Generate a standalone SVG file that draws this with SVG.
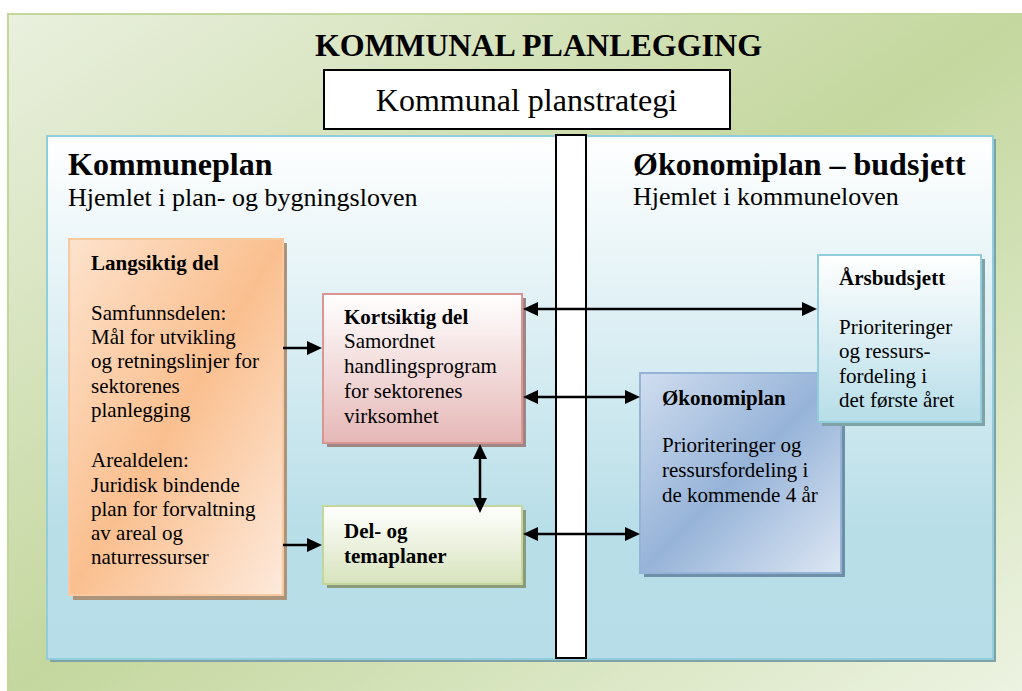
<svg xmlns="http://www.w3.org/2000/svg" width="1022" height="691" viewBox="0 0 1022 691">
  <defs>
    <linearGradient id="gBg" x1="0" y1="0" x2="1" y2="1">
      <stop offset="0" stop-color="#e9f0de"/>
      <stop offset="0.5" stop-color="#c4d79e"/>
      <stop offset="1" stop-color="#ecf3e2"/>
    </linearGradient>
    <linearGradient id="gPanel" x1="0" y1="0" x2="0" y2="1">
      <stop offset="0" stop-color="#ffffff"/>
      <stop offset="0.75" stop-color="#b8dee8"/>
      <stop offset="1" stop-color="#b7dde8"/>
    </linearGradient>
    <linearGradient id="gOrange" x1="0" y1="0" x2="1" y2="1">
      <stop offset="0" stop-color="#fde3cd"/>
      <stop offset="0.5" stop-color="#fabf8f"/>
      <stop offset="1" stop-color="#fdeadc"/>
    </linearGradient>
    <linearGradient id="gPink" x1="0" y1="0" x2="0" y2="1">
      <stop offset="0" stop-color="#ffffff"/>
      <stop offset="1" stop-color="#e5b8b7"/>
    </linearGradient>
    <linearGradient id="gGreen" x1="0" y1="0" x2="0" y2="1">
      <stop offset="0" stop-color="#ffffff"/>
      <stop offset="1" stop-color="#d7e3bc"/>
    </linearGradient>
    <linearGradient id="gBlue" x1="0" y1="0" x2="1" y2="1">
      <stop offset="0" stop-color="#d0ddef"/>
      <stop offset="0.5" stop-color="#96b3d8"/>
      <stop offset="1" stop-color="#dde7f3"/>
    </linearGradient>
    <linearGradient id="gAqua" x1="0" y1="0" x2="0" y2="1">
      <stop offset="0" stop-color="#ffffff"/>
      <stop offset="1" stop-color="#b6dde8"/>
    </linearGradient>
    <marker id="arr" viewBox="0 0 15 14" markerWidth="15" markerHeight="14" refX="2" refY="7" orient="auto-start-reverse" markerUnits="userSpaceOnUse">
      <path d="M0,0 L15,7 L0,14 z" fill="#000"/>
    </marker>
  </defs>
  <style>
    text { font-family: "Liberation Serif", "Times New Roman", serif; fill: #000; }
    .title { font-size: 32px; font-weight: bold; }
    .big { font-size: 32px; }
    .head { font-size: 32px; font-weight: bold; }
    .sub { font-size: 26px; }
    .t { font-size: 21px; }
    .b { font-weight: bold; }
    .conn line { stroke: #000; stroke-width: 2.5; fill: none; }
  </style>

  <g id="background">
    <rect x="8" y="14" width="1016" height="680" fill="url(#gBg)" stroke="#c3d69b" stroke-width="2"/>
  </g>

  <g id="title">
    <text class="title" x="538.5" y="56" text-anchor="middle">KOMMUNAL PLANLEGGING</text>
  </g>

  <g id="planstrategi">
    <rect x="324" y="70" width="406" height="59" fill="#ffffff" stroke="#000" stroke-width="2"/>
    <text class="big" x="526.5" y="111" text-anchor="middle">Kommunal planstrategi</text>
  </g>

  <g id="panel">
    <rect x="50" y="139" width="946" height="523" fill="#7fa2a7"/>
    <rect x="47" y="136" width="946" height="523" fill="url(#gPanel)" stroke="#92cddc" stroke-width="2"/>
    <text class="head" x="68" y="175">Kommuneplan</text>
    <text class="sub" x="68" y="206">Hjemlet i plan- og bygningsloven</text>
    <text class="head" x="633" y="175">Økonomiplan – budsjett</text>
    <text class="sub" x="633" y="205">Hjemlet i kommuneloven</text>
  </g>

  <g id="divider">
    <rect x="556" y="135" width="30" height="523" fill="#ffffff" stroke="#000" stroke-width="2"/>
  </g>

  <g id="langsiktig">
    <rect x="73" y="243" width="214" height="357" fill="#ab9479"/>
    <rect x="69" y="239" width="214" height="356" fill="url(#gOrange)" stroke="#f9c9a1" stroke-width="2"/>
    <text class="t b" x="91" y="270">Langsiktig del</text>
    <text class="t" x="91" y="320">Samfunnsdelen:</text>
    <text class="t" x="91" y="344">Mål for utvikling</text>
    <text class="t" x="91" y="368">og retningslinjer for</text>
    <text class="t" x="91" y="393">sektorenes</text>
    <text class="t" x="91" y="417">planlegging</text>
    <text class="t" x="91" y="467">Arealdelen:</text>
    <text class="t" x="91" y="492">Juridisk bindende</text>
    <text class="t" x="91" y="516">plan for forvaltning</text>
    <text class="t" x="91" y="540">av areal og</text>
    <text class="t" x="91" y="564">naturressurser</text>
  </g>

  <g id="kortsiktig">
    <rect x="327" y="298" width="199" height="149" fill="#9e8685"/>
    <rect x="323" y="294" width="199" height="149" fill="url(#gPink)" stroke="#d99694" stroke-width="2"/>
    <text class="t b" x="344" y="324">Kortsiktig del</text>
    <text class="t" x="344" y="348">Samordnet</text>
    <text class="t" x="344" y="373">handlingsprogram</text>
    <text class="t" x="344" y="398">for sektorenes</text>
    <text class="t" x="344" y="423">virksomhet</text>
  </g>

  <g id="delogtema">
    <rect x="327" y="510" width="199" height="78" fill="#8b9b7c"/>
    <rect x="323" y="506" width="199" height="78" fill="url(#gGreen)" stroke="#c3d69b" stroke-width="2"/>
    <text class="t b" x="344" y="538">Del- og</text>
    <text class="t b" x="344" y="563">temaplaner</text>
  </g>

  <g id="okonomiplan">
    <rect x="644" y="377" width="201" height="200" fill="#6f8ea7"/>
    <rect x="640" y="373" width="201" height="200" fill="url(#gBlue)" stroke="#95b3d7" stroke-width="2"/>
    <text class="t b" x="662" y="405">Økonomiplan</text>
    <text class="t" x="662" y="452">Prioriteringer og</text>
    <text class="t" x="662" y="477">ressursfordeling i</text>
    <text class="t" x="662" y="502">de kommende 4 år</text>
  </g>

  <g id="arsbudsjett">
    <rect x="822" y="259" width="163" height="167" fill="#7fa2a7"/>
    <rect x="818" y="255" width="163" height="167" fill="url(#gAqua)" stroke="#92cddc" stroke-width="2"/>
    <text class="t b" x="839" y="285">Årsbudsjett</text>
    <text class="t" x="839" y="334">Prioriteringer</text>
    <text class="t" x="839" y="358">og ressurs-</text>
    <text class="t" x="839" y="383">fordeling i</text>
    <text class="t" x="839" y="407">det første året</text>
  </g>

  <g id="connectors" class="conn">
    <line x1="283" y1="348" x2="309" y2="348" marker-end="url(#arr)"/>
    <line x1="283" y1="545" x2="309" y2="545" marker-end="url(#arr)"/>
    <line x1="536" y1="309" x2="804" y2="309" marker-start="url(#arr)" marker-end="url(#arr)"/>
    <line x1="536" y1="397" x2="627" y2="397" marker-start="url(#arr)" marker-end="url(#arr)"/>
    <line x1="536" y1="534" x2="627" y2="534" marker-start="url(#arr)" marker-end="url(#arr)"/>
    <line x1="480" y1="457" x2="480" y2="500" marker-start="url(#arr)" marker-end="url(#arr)"/>
  </g>
</svg>
